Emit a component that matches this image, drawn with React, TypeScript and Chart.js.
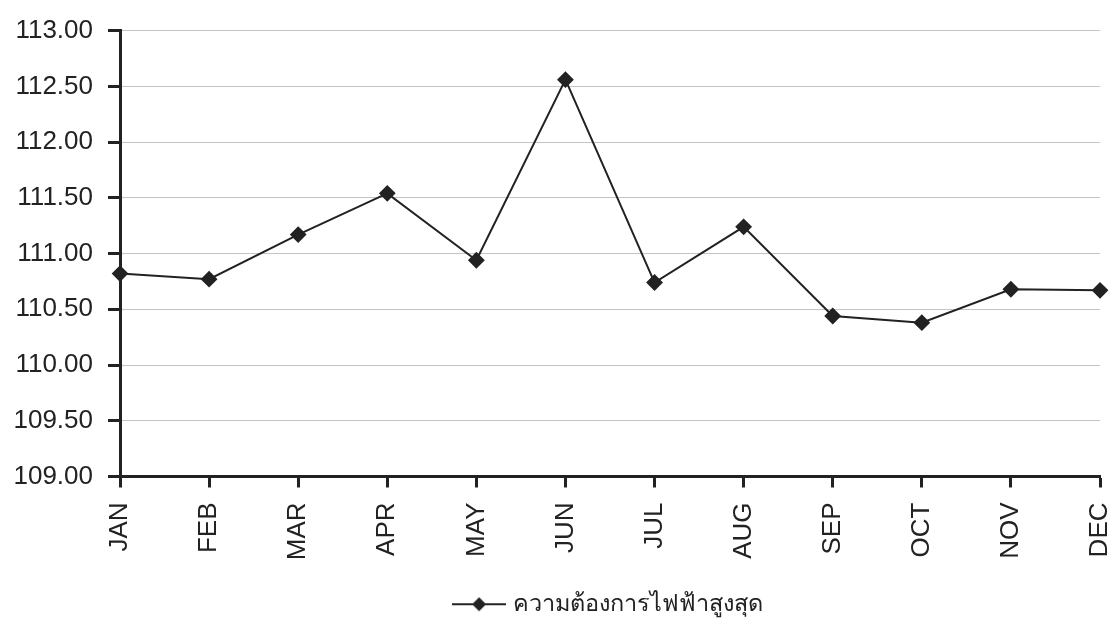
import React, { useEffect, useRef } from "react";
import { Chart, registerables } from "chart.js";

Chart.register(...registerables);

const months = ["JAN", "FEB", "MAR", "APR", "MAY", "JUN", "JUL", "AUG", "SEP", "OCT", "NOV", "DEC"];
const peakDemand = [110.82, 110.77, 111.17, 111.54, 110.94, 112.56, 110.74, 111.24, 110.44, 110.38, 110.68, 110.67];
const seriesName = "ความต้องการไฟฟ้าสูงสุด";
const yMin = 109;
const yMax = 113;
const yStep = 0.5;

const INK = "#222222";

function makeLegendMarker(): HTMLCanvasElement {
  const c = document.createElement("canvas");
  c.width = 54;
  c.height = 16;
  const ctx = c.getContext("2d")!;
  ctx.strokeStyle = INK;
  ctx.lineWidth = 2;
  ctx.beginPath();
  ctx.moveTo(0, 8);
  ctx.lineTo(54, 8);
  ctx.stroke();
  ctx.fillStyle = INK;
  ctx.beginPath();
  ctx.moveTo(27, 1);
  ctx.lineTo(34, 8);
  ctx.lineTo(27, 15);
  ctx.lineTo(20, 8);
  ctx.closePath();
  ctx.fill();
  return c;
}

export default function App() {
  const ref = useRef<HTMLCanvasElement | null>(null);

  useEffect(() => {
    if (!ref.current) return;
    const marker = makeLegendMarker();
    const chart = new Chart(ref.current, {
      type: "line",
      data: {
        labels: months,
        datasets: [
          {
            label: seriesName,
            data: peakDemand,
            borderColor: INK,
            backgroundColor: INK,
            borderWidth: 2,
            pointStyle: "rectRot",
            pointRadius: 7,
            pointBackgroundColor: INK,
            pointBorderColor: INK,
            tension: 0,
          },
        ],
      },
      options: {
        animation: false,
        responsive: false,
        layout: { padding: { left: 0, right: 12, top: 27, bottom: 8 } },
        plugins: {
          tooltip: { enabled: false },
          legend: {
            position: "bottom",
            fullSize: false,
            labels: {
              usePointStyle: true,
              pointStyleWidth: 44,
              color: INK,
              font: { family: "'Noto Sans', 'DejaVu Sans', sans-serif", size: 23.5 },
              padding: 10,
              generateLabels: (chart) =>
                chart.data.datasets.map((ds, i) => ({
                  text: ds.label as string,
                  pointStyle: marker,
                  fillStyle: INK,
                  strokeStyle: INK,
                  lineWidth: 0,
                  hidden: false,
                  datasetIndex: i,
                  fontColor: INK,
                })),
            },
          },
        },
        scales: {
          x: {
            offset: false,
            grid: {
              drawOnChartArea: false,
              drawTicks: true,
              tickLength: 11,
              tickColor: INK,
              tickWidth: 3,
            },
            border: { color: INK, width: 3 },
            ticks: {
              color: INK,
              minRotation: 90,
              maxRotation: 90,
              padding: 15,
              font: { family: "'Liberation Sans', Arial, sans-serif", size: 26 },
            },
            afterFit: (scale: any) => {
              scale.height = 106;
              scale.paddingLeft = 0;
              scale.paddingRight = 0;
            },
          },
          y: {
            min: yMin,
            max: yMax,
            grid: {
              color: "#c4c4c4",
              lineWidth: 1,
              drawTicks: true,
              tickLength: 12,
              tickColor: INK,
              tickWidth: 3,
            },
            border: { color: INK, width: 3 },
            ticks: {
              stepSize: yStep,
              color: INK,
              padding: 15,
              font: { family: "'Liberation Sans', Arial, sans-serif", size: 26 },
              callback: (v: any) => Number(v).toFixed(2),
            },
            afterFit: (scale: any) => {
              scale.width = 120;
            },
          },
        },
      },
    });
    return () => chart.destroy();
  }, []);

  return (
    <div style={{ position: "fixed", left: 0, top: 0, width: 1112, height: 634, background: "#fff" }}>
      <canvas ref={ref} width={1112} height={634} style={{ width: 1112, height: 634, display: "block" }} />
    </div>
  );
}
